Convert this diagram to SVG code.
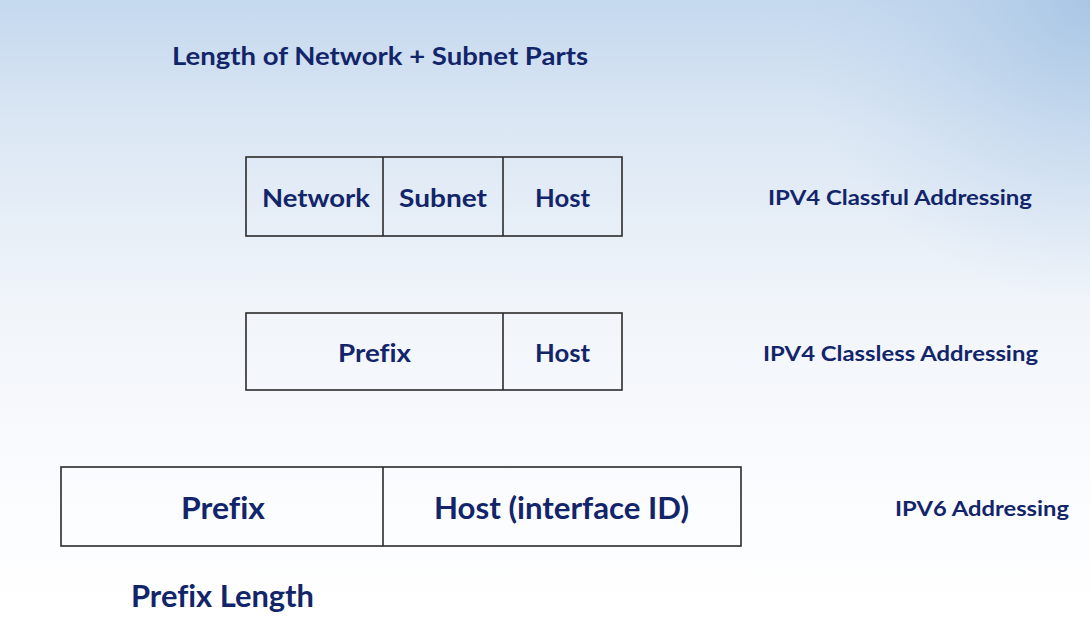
<svg xmlns="http://www.w3.org/2000/svg" width="1090" height="622" viewBox="0 0 1090 622">
<defs>
<linearGradient id="bg" x1="0" y1="0" x2="0" y2="1">
<stop offset="0" stop-color="#c4d8ee"/>
<stop offset="0.2" stop-color="#dbe7f4"/>
<stop offset="0.5" stop-color="#f1f5fa"/>
<stop offset="0.8" stop-color="#fbfcfe"/>
<stop offset="1" stop-color="#ffffff"/>
</linearGradient>
<radialGradient id="tr" cx="1090" cy="0" r="300" gradientUnits="userSpaceOnUse">
<stop offset="0" stop-color="#a6c4e4" stop-opacity="0.9"/>
<stop offset="1" stop-color="#c4d8ee" stop-opacity="0"/>
</radialGradient>
<style>
.t{font-family:Lato,"Liberation Sans",sans-serif;font-weight:bold;fill:#13256a;font-variant-ligatures:none;}
.box{fill:none;stroke:#2b2b2b;stroke-width:1.6;}
</style>
</defs>
<rect width="1090" height="622" fill="url(#bg)"/>
<rect width="1090" height="622" fill="url(#tr)"/>
<g id="title"><text class="t" x="172" y="65" font-size="25" textLength="416" lengthAdjust="spacingAndGlyphs">Length of Network + Subnet Parts</text></g>
<g id="classful">
<rect class="box" x="246" y="157" width="376" height="79"/>
<line class="box" x1="383" y1="157" x2="383" y2="236"/>
<line class="box" x1="503" y1="157" x2="503" y2="236"/>
<text class="t" x="262" y="207" font-size="25" textLength="108" lengthAdjust="spacingAndGlyphs">Network</text>
<text class="t" x="399" y="207" font-size="25" textLength="88" lengthAdjust="spacingAndGlyphs">Subnet</text>
<text class="t" x="535" y="207" font-size="25" textLength="55" lengthAdjust="spacingAndGlyphs">Host</text>
</g>
<g id="classful-label"><text class="t" x="768" y="205" font-size="21" textLength="264" lengthAdjust="spacingAndGlyphs">IPV4 Classful Addressing</text></g>
<g id="classless">
<rect class="box" x="246" y="313" width="376" height="77"/>
<line class="box" x1="503" y1="313" x2="503" y2="390"/>
<text class="t" x="338" y="362" font-size="25" textLength="73" lengthAdjust="spacingAndGlyphs">Prefix</text>
<text class="t" x="535" y="362" font-size="25" textLength="55" lengthAdjust="spacingAndGlyphs">Host</text>
</g>
<g id="classless-label"><text class="t" x="763" y="361" font-size="21" textLength="275" lengthAdjust="spacingAndGlyphs">IPV4 Classless  Addressing</text></g>
<g id="ipv6">
<rect class="box" x="61" y="467" width="680" height="79"/>
<line class="box" x1="383" y1="467" x2="383" y2="546"/>
<text class="t" x="181" y="519" font-size="30" textLength="84" lengthAdjust="spacingAndGlyphs">Prefix</text>
<text class="t" x="434" y="519" font-size="30" textLength="255" lengthAdjust="spacingAndGlyphs">Host (interface ID)</text>
</g>
<g id="ipv6-label"><text class="t" x="895" y="516" font-size="21" textLength="174" lengthAdjust="spacingAndGlyphs">IPV6 Addressing</text></g>
<g id="prefix-length"><text class="t" x="131" y="607" font-size="30" textLength="183" lengthAdjust="spacingAndGlyphs">Prefix Length</text></g>
</svg>
